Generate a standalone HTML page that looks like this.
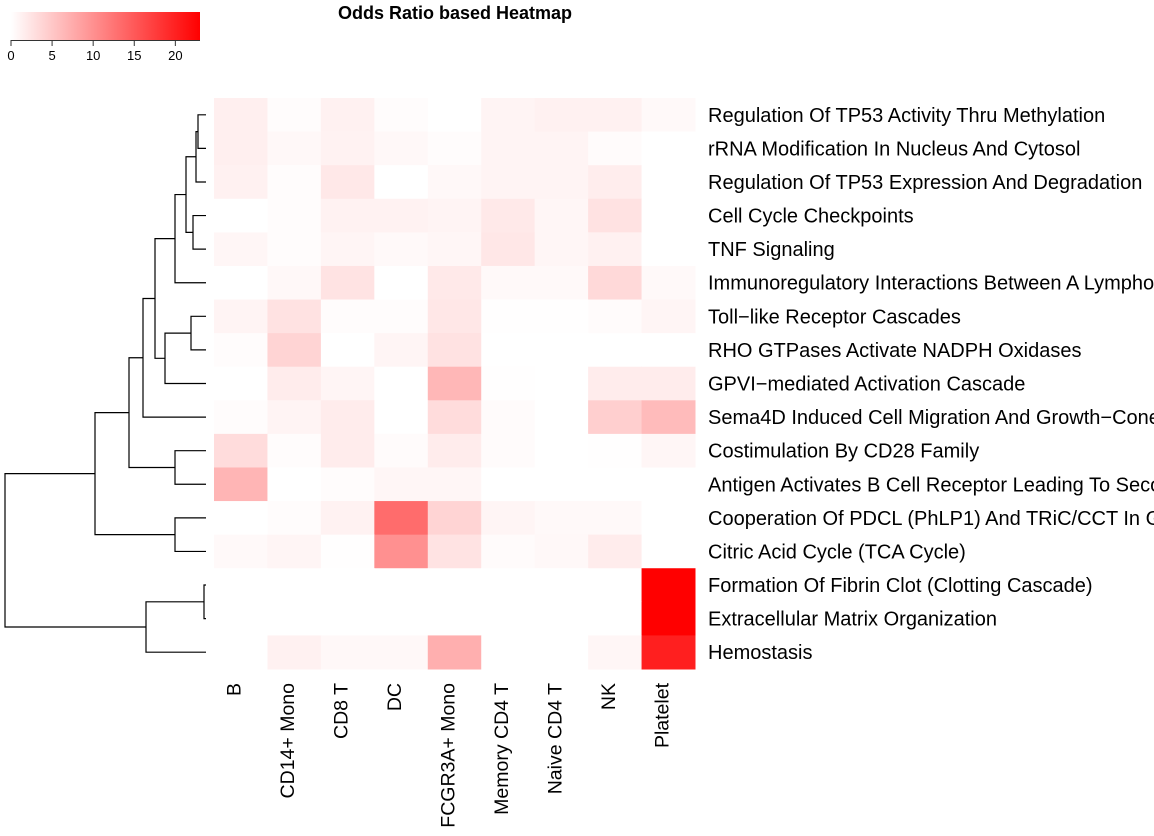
<!DOCTYPE html>
<html><head><meta charset="utf-8"><style>
html,body{margin:0;padding:0;background:#fff;}
svg{display:block;font-family:"Liberation Sans",sans-serif;}
</style></head><body>
<svg id="chart" width="1154" height="836" viewBox="0 0 1154 836"></svg>
<script>
const rows=["Regulation Of TP53 Activity Thru Methylation","rRNA Modification In Nucleus And Cytosol","Regulation Of TP53 Expression And Degradation","Cell Cycle Checkpoints","TNF Signaling","Immunoregulatory Interactions Between A Lymphoid And A Non-Lymphoid Cell","Toll\u2212like Receptor Cascades","RHO GTPases Activate NADPH Oxidases","GPVI\u2212mediated Activation Cascade","Sema4D Induced Cell Migration And Growth\u2212Cone Collapse","Costimulation By CD28 Family","Antigen Activates B Cell Receptor Leading To Second Messengers","Cooperation Of PDCL (PhLP1) And TRiC/CCT In G-protein Beta Folding","Citric Acid Cycle (TCA Cycle)","Formation Of Fibrin Clot (Clotting Cascade)","Extracellular Matrix Organization","Hemostasis"];
const cols=["B","CD14+ Mono","CD8 T","DC","FCGR3A+ Mono","Memory CD4 T","Naive CD4 T","NK","Platelet"];
const values=[
[1.4,0.3,1.3,0.3,0,1.0,1.3,1.3,0.5],
[1.4,0.6,1.2,0.6,0.3,1.0,1.0,0.4,0],
[1.3,0.3,2.1,0,0.6,1.0,1.0,1.6,0],
[0,0.3,1.2,1.2,1.0,2.0,0.8,2.6,0],
[0.8,0.3,0.9,0.5,0.8,2.2,0.8,1.3,0],
[0,0.6,2.5,0,2.0,0.5,0.5,3.4,0.5],
[1.0,2.6,0.3,0.3,2.2,0.1,0.1,0.4,0.9],
[0.3,3.9,0,0.9,2.6,0,0,0,0],
[0,1.7,0.9,0,6.5,0.1,0,1.7,1.7],
[0.3,1.0,1.7,0,3.2,0.4,0,4.3,6.1],
[3.2,0.3,1.7,0.4,1.7,0.4,0,0.1,0.8],
[6.7,0,0.3,0.8,0.8,0,0,0,0],
[0,0.3,1.2,13.3,3.9,0.9,0.5,0.5,0],
[0.5,0.9,0.1,10,2.5,0.4,0.6,1.7,0],
[0,0,0,0,0,0,0,0,23],
[0,0,0,0,0,0,0,0,23],
[0,1.3,0.6,0.6,7.2,0,0,0.8,20.2]];
const legendTicks=[0,5,10,15,20];
const vmax=23;
// dendrogram merges: [left, right, height]; negative = leaf index (1-based), positive = merge index (1-based)
const merges=[[-1,-2,8],[1,-3,10],[-4,-5,13],[2,3,20],[4,-6,31],[-7,-8,15],[6,-9,41],[5,7,51],[8,-10,63],[-11,-12,31],[9,10,77],[-13,-14,31],[11,12,111],[-15,-16,2],[14,-17,60],[13,15,201]];

const NS="http://www.w3.org/2000/svg";
const svg=document.getElementById('chart');
function mk(t,a,p){const e=document.createElementNS(NS,t);for(const k in a)e.setAttribute(k,a[k]);(p||svg).appendChild(e);return e;}
const X0=214,X1=695,Y0=98,Y1=669;
const cw=(X1-X0)/cols.length, rh=(Y1-Y0)/rows.length;
const xc=i=>X0+i*cw, yr=j=>Y0+j*rh;
function col(v){const g=Math.round(255*(1-Math.min(v,vmax)/vmax));return `rgb(255,${g},${g})`;}

let t=mk('text',{x:455,y:19,'text-anchor':'middle','font-size':18,'font-weight':'bold',fill:'#000'});
t.textContent="Odds Ratio based Heatmap";


const lg=mk('g',{});

const defs=mk('defs',{});const gr=mk('linearGradient',{id:'lgr',x1:0,x2:1,y1:0,y2:0},defs);
mk('stop',{offset:0,'stop-color':'#fff'},gr);mk('stop',{offset:1,'stop-color':'#f00'},gr);
const LX0=11,LX1=200,lx=v=>LX0+v/vmax*(LX1-LX0);
mk('rect',{x:LX0,y:12,width:LX1-LX0,height:28,fill:'url(#lgr)'},lg);
mk('line',{x1:LX0,x2:LX1,y1:40.5,y2:40.5,stroke:'#333','stroke-width':1},lg);
legendTicks.forEach(v=>{
  mk('line',{x1:lx(v),x2:lx(v),y1:40,y2:46,stroke:'#333'},lg);
  const tt=mk('text',{x:lx(v),y:60,'text-anchor':'middle','font-size':13,fill:'#000'},lg);tt.textContent=v;
  
});

values.forEach((r,j)=>r.forEach((v,i)=>{
  const c=mk('rect',{x:xc(i),y:yr(j),width:cw+0.5,height:rh+0.5,fill:col(v)});
  
  
}));

rows.forEach((s,j)=>{
  const e=mk('text',{x:708,y:yr(j)+rh/2+7,'font-size':20,fill:'#000'});e.textContent=s;
  
  
});
cols.forEach((s,i)=>{
  const x=xc(i)+cw/2,y=683;
  const e=mk('text',{x:x,y:y,'text-anchor':'end','font-size':19.5,fill:'#000',transform:`rotate(-90 ${x} ${y})`});e.textContent=s;
  
  
});

const TIP=206, hx=h=>TIP-h;
const dg=mk('g',{stroke:'#000','stroke-width':1.2,fill:'none'});

const pos=[];
function node(n){if(n<0)return {y:yr(-n-1)+rh/2,h:0};return pos[n-1];}
merges.forEach((m,k)=>{
  const a=node(m[0]),b=node(m[1]),x=hx(m[2]);
  mk('path',{d:`M${hx(a.h)},${a.y}H${x}V${b.y}H${hx(b.h)}`},dg);
  pos[k]={y:(a.y+b.y)/2,h:m[2]};
});
</script>
</body></html>
